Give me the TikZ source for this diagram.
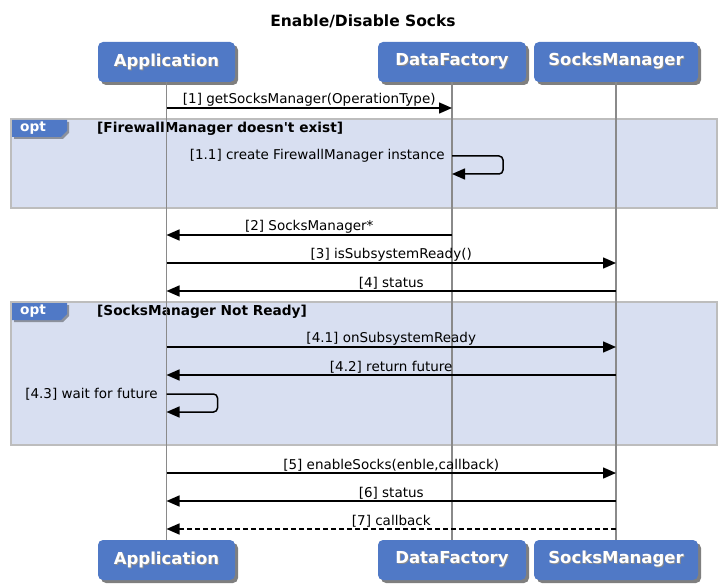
\documentclass[tikz,border=0pt]{standalone}
\usepackage{fontspec}
\setmainfont{DejaVu Sans}
\usetikzlibrary{positioning, arrows.meta, shadows}
\definecolor{actorblue}{HTML}{5079C6}
\definecolor{framefill}{HTML}{D8DFF1}
\definecolor{frameline}{HTML}{BDBDBD}
\definecolor{lifegray}{HTML}{8A8A8A}
\newcommand{\shadowtext}[1]{\makebox[0pt][l]{\hspace{1pt}\raisebox{-1pt}{\textcolor{black!45}{#1}}}#1}

\begin{document}
\begin{tikzpicture}[
    x=1pt, y=-1pt,
    actor/.style={fill=actorblue, rounded corners=5pt, minimum height=40pt, text=white, font=\fontsize{16.5}{18}\selectfont\bfseries, drop shadow={shadow xshift=3pt, shadow yshift=-3pt, fill=black, opacity=0.5}},
    msg/.style={-{Triangle[length=13pt, width=11pt]}, line width=1.5pt},
    reply/.style={msg, dash pattern=on 5pt off 3pt},
    msglabel/.style={font=\fontsize{13.5}{15}\selectfont, inner sep=0.5pt, anchor=south},
    selflabel/.style={font=\fontsize{13.5}{15}\selectfont, inner sep=0pt, anchor=east},
    life/.style={draw=lifegray, line width=1.6pt},
    optframe/.style={draw=frameline, fill=framefill, line width=1.6pt},
    opttab/.style={fill=actorblue, drop shadow={shadow xshift=2pt, shadow yshift=-2pt, fill=black, opacity=0.35}},
    guard/.style={font=\fontsize{13.7}{15}\selectfont\bfseries, inner sep=0pt, anchor=west},
    tabtext/.style={font=\fontsize{13.7}{15}\selectfont\bfseries, text=white, inner sep=0pt, anchor=west}
]
\useasboundingbox (0,0) rectangle (725,588);

% title
\node[font=\fontsize{15.5}{17}\selectfont\bfseries] (title) at (363,21) {Enable/Disable Socks};

% opt frames
\draw[optframe] (11,119) rectangle (717,208);
\path[opttab] (12,120) -- (67,120) -- (67,131) -- (61,137) -- (12,137) -- cycle;
\node[tabtext] (tab1) at (20,128.5) {opt};
\node[guard] (guard1) at (97,128.5) {[FirewallManager doesn\textquotesingle t exist]};

\draw[optframe] (11,302) rectangle (717,445);
\path[opttab] (12,303) -- (67,303) -- (67,314) -- (61,320) -- (12,320) -- cycle;
\node[tabtext] (tab2) at (20,311.5) {opt};
\node[guard] (guard2) at (97,311.5) {[SocksManager Not Ready]};

% actors
\node[actor, minimum width=137pt] (appTop) at (166.5,62) {\shadowtext{Application}};
\node[actor, minimum width=148pt] (dfTop) at (452,62) {\shadowtext{DataFactory}};
\node[actor, minimum width=164pt] (smTop) at (616,62) {\shadowtext{SocksManager}};
\node[actor, minimum width=137pt] (appBot) at (166.5,560) {\shadowtext{Application}};
\node[actor, minimum width=148pt] (dfBot) at (452,560) {\shadowtext{DataFactory}};
\node[actor, minimum width=164pt] (smBot) at (616,560) {\shadowtext{SocksManager}};

% lifelines
\draw[life] (appTop.south) -- (appBot.north);
\draw[life] (dfTop.south) -- (dfBot.north);
\draw[life] (smTop.south) -- (smBot.north);

% messages
\draw[msg] (appTop |- 0,108) -- node[msglabel] {[1] getSocksManager(OperationType)} (dfTop |- 0,108);
\draw[msg, rounded corners=4pt] (dfTop |- 0,156) -- ++(51,0) -- ++(0,18) -- (dfTop |- 0,174);
\node[selflabel] (m11) at (445,156) {[1.1] create FirewallManager instance};
\draw[msg] (dfTop |- 0,235) -- node[msglabel] {[2] SocksManager*} (appTop |- 0,235);
\draw[msg] (appTop |- 0,263) -- node[msglabel] {[3] isSubsystemReady()} (smTop |- 0,263);
\draw[msg] (smTop |- 0,291) -- node[msglabel] {[4] status} (appTop |- 0,291);
\draw[msg] (appTop |- 0,347) -- node[msglabel] {[4.1] onSubsystemReady} (smTop |- 0,347);
\draw[msg] (smTop |- 0,375) -- node[msglabel] {[4.2] return future} (appTop |- 0,375);
\draw[msg, rounded corners=4pt] (appTop |- 0,394) -- ++(51,0) -- ++(0,18) -- (appTop |- 0,412);
\node[selflabel] (m43) at (158,394.5) {[4.3] wait for future};
\draw[msg] (appTop |- 0,473) -- node[msglabel] {[5] enableSocks(enble,callback)} (smTop |- 0,473);
\draw[msg] (smTop |- 0,501) -- node[msglabel] {[6] status} (appTop |- 0,501);
\draw[reply] (smTop |- 0,529) -- node[msglabel] {[7] callback} (appTop |- 0,529);

\end{tikzpicture}
\end{document}
